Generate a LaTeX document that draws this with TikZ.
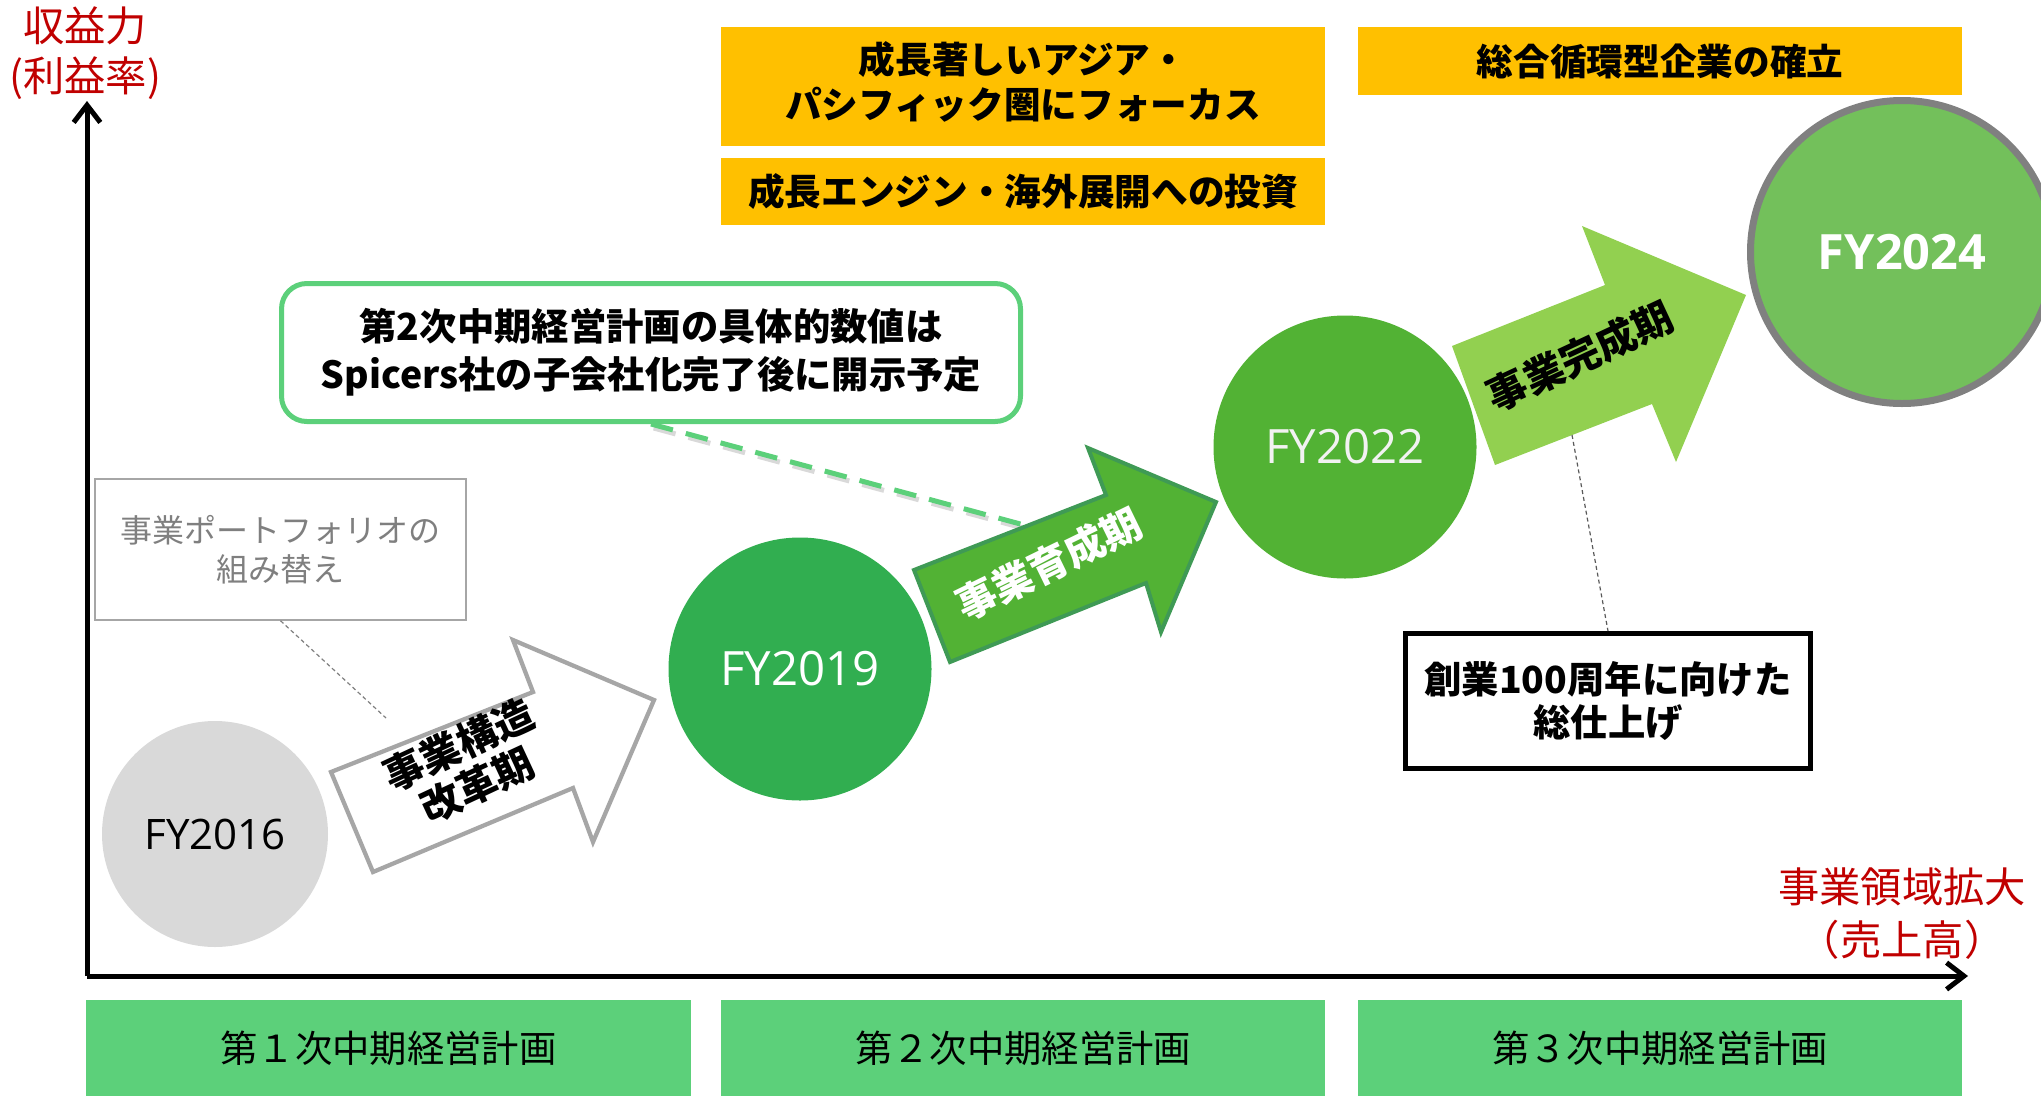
\documentclass[tikz,border=0pt]{standalone}
\usepackage{fontspec}
\setmainfont{Noto Sans CJK JP}
\newfontfamily\fyfont{Open Sans}
\usetikzlibrary{arrows.meta}
\definecolor{yel}{HTML}{FFC000}
\definecolor{boxgreen}{HTML}{5CD07A}
\definecolor{gA}{HTML}{31AE50}
\definecolor{gB}{HTML}{52B234}
\definecolor{gBdark}{HTML}{3F9A55}
\definecolor{gC}{HTML}{73C05B}
\definecolor{gD}{HTML}{92D050}
\definecolor{lgray}{HTML}{D9D9D9}
\definecolor{redlab}{HTML}{C00000}
\definecolor{boxgray}{HTML}{A6A6A6}
\definecolor{txtgray}{HTML}{7F7F7F}
\begin{document}
\begin{tikzpicture}[x=0.75pt,y=-0.75pt,
  yelbox/.style={fill=yel, inner sep=0pt, minimum width=453pt, align=center,
     font=\bfseries\fontsize{27.5pt}{33.75pt}\selectfont},
  planbox/.style={fill=boxgreen, inner sep=0pt, minimum width=453.5pt, minimum height=72pt,
     font=\fontsize{28pt}{34pt}\selectfont},
  fycircle/.style={circle, inner sep=0pt},
  arrowtxt/.style={align=center, font=\bfseries\fontsize{30pt}{33pt}\selectfont},
  redlabel/.style={text=redlab, align=center, inner sep=0pt},
  axis/.style={line width=3.75pt, -{Straight Barb[length=13pt,width=20pt]}},
  thindash/.style={line width=0.9pt, dash pattern=on 3pt off 2.25pt}
]
\useasboundingbox (0,0) rectangle (2041,1096);

% top yellow boxes
\node[yelbox, minimum height=89.25pt] (y1) at (1023,86.5) {};
\node[align=center, inner sep=0pt, font=\bfseries\fontsize{27.5pt}{33.75pt}\selectfont] (y1t) at (1023,81.5) {成長著しいアジア・\\パシフィック圏にフォーカス};
\node[yelbox, minimum height=50.25pt] (y2) at (1023,191.5) {成長エンジン・海外展開への投資};
\node[yelbox, minimum height=51pt] (y3) at (1660,61) {総合循環型企業の確立};

% bottom plan boxes
\node[planbox] (p1) at (388.5,1048) {第１次中期経営計画};
\node[planbox] (p2) at (1023,1048) {第２次中期経営計画};
\node[planbox] (p3) at (1660,1048) {第３次中期経営計画};

% axes
\coordinate (origin) at (87,976);
\coordinate (ytip) at (87,101);
\coordinate (xtip) at (1968,976);
\draw[axis] (origin) -- (ytip);
\draw[axis] (origin) -- (xtip);
\node[redlabel, font=\fontsize{31pt}{37.5pt}\selectfont] (ylab) at (85,53) {収益力\\(利益率)};
\node[redlabel, font=\fontsize{31pt}{39.75pt}\selectfont] (xlab) at (1902,913.5) {事業領域拡大\\（売上高）};

% callout
\node[draw=boxgreen, line width=3.75pt, rounded corners=19pt, fill=white,
      minimum width=554.25pt, minimum height=103.5pt, align=center,
      font=\bfseries\fontsize{28pt}{36pt}\selectfont] (callout) at (651,352.5)
      {第2次中期経営計画の具体的数値は\\Spicers社の子会社化完了後に開示予定};

% gray portfolio box
\node[draw=boxgray, line width=1.1pt, minimum width=278.25pt, minimum height=105.75pt,
      text=txtgray, align=center, font=\fontsize{24pt}{29.25pt}\selectfont] (pf) at (280.5,549.5)
      {事業ポートフォリオの\\組み替え};

% circles
\node[fycircle, fill=lgray, minimum size=169.5pt, font=\fyfont\fontsize{31.5pt}{36pt}\selectfont] (fy16) at (215,834) {FY2016};
\node[fycircle, fill=gA, minimum size=197.25pt, text=white, font=\fyfont\fontsize{35.5pt}{40pt}\selectfont] (fy19) at (800,669) {FY2019};
\node[fycircle, fill=gB, minimum size=197.25pt, text=white!95!black, font=\fyfont\fontsize{35.5pt}{40pt}\selectfont] (fy22) at (1345,447) {FY2022};
\node[fycircle, fill=gC, draw=gray, line width=5.25pt, minimum size=227.25pt, text=white, font=\fyfont\bfseries\fontsize{36.5pt}{40pt}\selectfont] (fy24) at (1902,252) {FY2024};

% connectors (dashed)
\coordinate (pfend) at (386,718);
\draw[thindash, draw=txtgray] (pf.south) -- (pfend);
\coordinate (cend) at (1024,525);
\draw[line width=3.75pt, dash pattern=on 17pt off 10pt, draw=black, opacity=0.15, transform canvas={shift={(2pt,-3pt)}}] (callout.south) -- (cend);
\draw[line width=3.75pt, dash pattern=on 17pt off 10pt, draw=boxgreen] (callout.south) -- (cend);

% arrow 1 (white)
\draw[draw=boxgray, line width=3.2pt, fill=white, line join=miter]
  (331,772) -- (533,692) -- (513,640) -- (654,700) -- (593,842) -- (573,788) -- (373,872) -- cycle;
\node[arrowtxt, rotate=25] (t1) at (468,765) {事業構造\\改革期};

% arrow 2 (green)
\draw[draw=gBdark, line width=3pt, fill=gB, line join=miter]
  (914,570) -- (1106,495) -- (1088,448) -- (1216,502) -- (1161,632) -- (1146,583) -- (950,662) -- cycle;
\node[arrowtxt, text=white, rotate=26] (t2) at (1049,564) {事業育成期};

% arrow 3 (light green)
\fill[gD] (1452,346) -- (1605,285) -- (1582,226) -- (1746,295) -- (1676,462) -- (1652,404) -- (1495,465) -- cycle;
\node[arrowtxt, rotate=25] (t3) at (1580,356) {事業完成期};

% centennial box
\coordinate (aend) at (1572,435);
\node[draw=black, line width=3.75pt, fill=white, minimum width=303.75pt, minimum height=101.25pt,
      align=center, font=\bfseries\fontsize{28pt}{32.25pt}\selectfont] (cent) at (1608,701)
      {創業100周年に向けた\\総仕上げ};
\draw[thindash, draw=black!65] (aend) -- (cent.north);
\end{tikzpicture}
\end{document}
